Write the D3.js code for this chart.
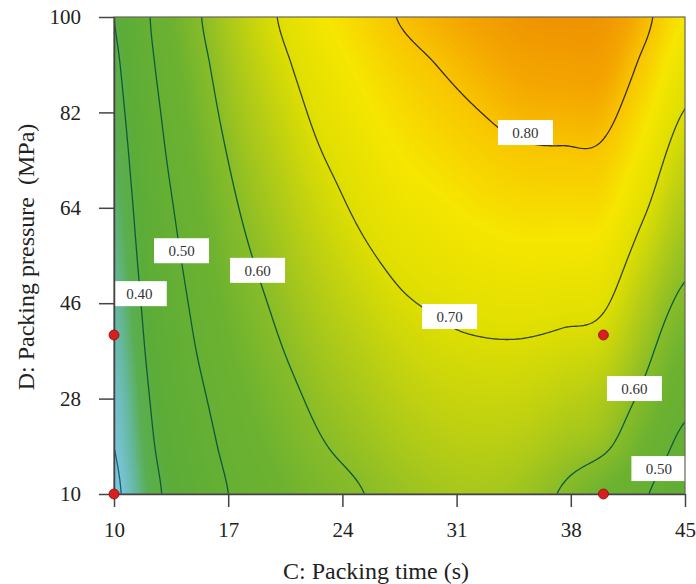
<!doctype html>
<html>
<head>
<script src="https://d3js.org/d3.v7.min.js"></script>
<style>
  body { margin: 0; background: #fff; }
  text { font-family: "Liberation Serif", "Times New Roman", serif; }
</style>
</head>
<body>
<div id="chart"></div>
<script>
// factor levels of the grid (C: packing time, D: packing pressure)
var packTime = [10, 12.5, 15, 17.5, 20, 22.5, 25, 27.5, 30, 32.5, 35, 37.5, 40, 42.5, 45];
var packPressure = [10, 19, 28, 37, 46, 55, 64, 73, 82, 91, 100];

// response, one row per pressure level
var response = [
  [0.288, 0.387, 0.451, 0.510, 0.545, 0.575, 0.597, 0.618, 0.632, 0.637, 0.625, 0.595, 0.550, 0.506, 0.455],
  [0.300, 0.400, 0.467, 0.525, 0.561, 0.594, 0.616, 0.637, 0.651, 0.656, 0.650, 0.630, 0.610, 0.548, 0.483],
  [0.310, 0.412, 0.483, 0.539, 0.577, 0.611, 0.634, 0.656, 0.670, 0.675, 0.673, 0.660, 0.642, 0.586, 0.517],
  [0.322, 0.425, 0.499, 0.554, 0.594, 0.628, 0.652, 0.675, 0.689, 0.694, 0.694, 0.687, 0.675, 0.617, 0.551],
  [0.333, 0.437, 0.512, 0.568, 0.609, 0.644, 0.671, 0.694, 0.706, 0.715, 0.718, 0.714, 0.706, 0.646, 0.586],
  [0.344, 0.450, 0.525, 0.583, 0.624, 0.661, 0.690, 0.712, 0.725, 0.736, 0.742, 0.740, 0.733, 0.676, 0.616],
  [0.355, 0.462, 0.538, 0.597, 0.639, 0.677, 0.707, 0.730, 0.744, 0.758, 0.766, 0.766, 0.762, 0.706, 0.643],
  [0.366, 0.475, 0.551, 0.611, 0.654, 0.694, 0.722, 0.748, 0.764, 0.779, 0.790, 0.792, 0.788, 0.734, 0.670],
  [0.378, 0.487, 0.564, 0.625, 0.669, 0.710, 0.739, 0.764, 0.783, 0.800, 0.815, 0.818, 0.815, 0.762, 0.698],
  [0.389, 0.500, 0.577, 0.638, 0.685, 0.725, 0.755, 0.782, 0.802, 0.820, 0.835, 0.840, 0.838, 0.789, 0.724],
  [0.400, 0.512, 0.590, 0.651, 0.700, 0.740, 0.772, 0.802, 0.821, 0.838, 0.855, 0.860, 0.855, 0.813, 0.750]
];

var contourLevels = [0.3, 0.4, 0.5, 0.6, 0.7, 0.8];

// contour labels, placed in data units
var labelText = ["0.80", "0.70", "0.60", "0.50", "0.50", "0.60", "0.40"];
var labelTime = [35.22, 30.57, 41.9, 43.4, 14.14, 18.8, 11.55];
var labelPressure = [78.2, 43.5, 29.9, 14.8, 55.9, 52.2, 47.8];

// design points
var designTime = [10, 10, 40, 40];
var designPressure = [40, 10, 40, 10];

var timeTicks = [10, 17, 24, 31, 38, 45];
var pressureTicks = [10, 28, 46, 64, 82, 100];

var width = 696, height = 584;
var plotLeft = 114, plotRight = 685, plotTop = 17, plotBottom = 494;
var serif = "Liberation Serif";

var x = d3.scaleLinear().domain([10, 45]).range([plotLeft, plotRight]);
var y = d3.scaleLinear().domain([10, 100]).range([plotBottom, plotTop]);

var color = d3.scaleLinear()
  .domain([0.28, 0.30, 0.335, 0.37, 0.42, 0.55, 0.60, 0.65, 0.70, 0.75, 0.80, 0.83, 0.865])
  .range(["#80c8e4", "#78c4dc", "#66b8a2", "#5aae52", "#5cac38", "#6cb230", "#88bc28",
          "#b4cc16", "#dede02", "#f6e600", "#f8c400", "#f4a600", "#ee9000"])
  .clamp(true);

var lineColor = {0.3: "#1c5f66", 0.4: "#0e5a3c", 0.5: "#0e5a3c", 0.6: "#0e5a3c", 0.7: "#39461f", 0.8: "#3b2f1c"};

// smooth surface through the grid (catmull-rom in both directions)
var nC = packTime.length, nD = packPressure.length;
function at(j, i) {
  j = Math.max(0, Math.min(nD - 1, j));
  i = Math.max(0, Math.min(nC - 1, i));
  return response[j][i];
}
function cr(p0, p1, p2, p3, t) {
  return p1 + 0.5 * t * (p2 - p0 + t * (2 * p0 - 5 * p1 + 4 * p2 - p3 + t * (3 * (p1 - p2) + p3 - p0)));
}
function surface(c, d) {
  var fi = (c - packTime[0]) / (packTime[1] - packTime[0]);
  var fj = (d - packPressure[0]) / (packPressure[1] - packPressure[0]);
  var i = Math.max(0, Math.min(nC - 2, Math.floor(fi))), t = fi - i;
  var j = Math.max(0, Math.min(nD - 2, Math.floor(fj))), u = fj - j;
  var col = [];
  for (var k = -1; k <= 2; k++) {
    col.push(cr(at(j + k, i - 1), at(j + k, i), at(j + k, i + 1), at(j + k, i + 2), t));
  }
  return cr(col[0], col[1], col[2], col[3], u);
}

var svg = d3.select("#chart").append("svg")
  .attr("width", width)
  .attr("height", height);

var pw = plotRight - plotLeft, ph = plotBottom - plotTop;

svg.append("defs").append("clipPath").attr("id", "plotclip")
  .append("rect")
  .attr("x", plotLeft).attr("y", plotTop)
  .attr("width", pw).attr("height", ph);

// colour field
var canvas = document.createElement("canvas");
canvas.width = pw; canvas.height = ph;
var ctx = canvas.getContext("2d");
var img = ctx.createImageData(pw, ph);
for (var py = 0; py < ph; py++) {
  var dv = y.invert(plotTop + py + 0.5);
  for (var px = 0; px < pw; px++) {
    var cv = x.invert(plotLeft + px + 0.5);
    var rgb = d3.rgb(color(surface(cv, dv)));
    var o = (py * pw + px) * 4;
    img.data[o] = rgb.r; img.data[o + 1] = rgb.g; img.data[o + 2] = rgb.b; img.data[o + 3] = 255;
  }
}
ctx.putImageData(img, 0, 0);

svg.append("image")
  .attr("x", plotLeft).attr("y", plotTop)
  .attr("width", pw).attr("height", ph)
  .attr("preserveAspectRatio", "none")
  .attr("href", canvas.toDataURL());

// contour lines
var step = 2, x0 = plotLeft - 6, y0 = plotTop - 6;
var nx = Math.ceil((pw + 12) / step) + 1, ny = Math.ceil((ph + 12) / step) + 1;
var grid = new Array(nx * ny);
for (var gj = 0; gj < ny; gj++) {
  for (var gi = 0; gi < nx; gi++) {
    grid[gj * nx + gi] = surface(x.invert(x0 + gi * step), y.invert(y0 + gj * step));
  }
}
var contours = d3.contours().size([nx, ny]).thresholds(contourLevels)(grid);
var path = d3.geoPath(d3.geoIdentity().scale(step).translate([x0 - 0.5 * step, y0 - 0.5 * step]));

var plot = svg.append("g").attr("clip-path", "url(#plotclip)");

plot.selectAll("path.contour")
  .data(contours)
  .enter()
  .append("path")
  .attr("class", "contour")
  .attr("d", path)
  .attr("fill", "none")
  .attr("stroke", function(d) { return lineColor[d.value]; })
  .attr("stroke-width", 1.3);

// contour labels
var labels = plot.selectAll("g.lab")
  .data(labelText)
  .enter()
  .append("g")
  .attr("class", "lab")
  .attr("transform", function(d, i) { return "translate(" + x(labelTime[i]) + "," + y(labelPressure[i]) + ")"; });

labels.append("rect")
  .attr("x", -27.5).attr("y", -12.5)
  .attr("width", 55).attr("height", 25)
  .attr("fill", "#fff");

labels.append("text")
  .attr("text-anchor", "middle")
  .attr("dy", "0.35em")
  .attr("font-family", serif)
  .attr("font-size", 15)
  .attr("fill", "#333")
  .text(function(d) { return d; });

// frame
svg.append("rect")
  .attr("x", plotLeft).attr("y", plotTop)
  .attr("width", pw).attr("height", ph)
  .attr("fill", "none")
  .attr("stroke", "#6a6458")
  .attr("stroke-width", 1.2);

// axes
var xAxis = d3.axisBottom(x).tickValues(timeTicks).tickSize(13).tickSizeOuter(0).tickPadding(15);
var yAxis = d3.axisLeft(y).tickValues(pressureTicks).tickSize(15).tickSizeOuter(0).tickPadding(18);

var gx = svg.append("g").attr("transform", "translate(0," + plotBottom + ")").call(xAxis)
  .attr("font-family", serif).attr("font-size", 21);
var gy = svg.append("g").attr("transform", "translate(" + plotLeft + ",0)").call(yAxis)
  .attr("font-family", serif).attr("font-size", 21);

[gx, gy].forEach(function(g) {
  g.selectAll("path.domain").attr("stroke", "#444").attr("stroke-width", 1.5);
  g.selectAll(".tick line").attr("stroke", "#444").attr("stroke-width", 1.5);
  g.selectAll(".tick text").attr("fill", "#222");
});

// design points
svg.selectAll("circle.design")
  .data(designTime)
  .enter()
  .append("circle")
  .attr("class", "design")
  .attr("cx", function(d) { return x(d); })
  .attr("cy", function(d, i) { return y(designPressure[i]); })
  .attr("r", 5)
  .attr("fill", "#d81e1e")
  .attr("stroke", "#8a1010")
  .attr("stroke-width", 0.8);

// axis titles
svg.append("text")
  .attr("x", 376).attr("y", 579)
  .attr("text-anchor", "middle")
  .attr("font-family", serif)
  .attr("font-size", 24)
  .attr("fill", "#222")
  .text("C: Packing time (s)");

svg.append("text")
  .attr("transform", "translate(34,257) rotate(-90)")
  .attr("text-anchor", "middle")
  .attr("font-family", serif)
  .attr("font-size", 24)
  .attr("fill", "#222")
  .style("white-space", "pre")
  .text("D: Packing pressure  (MPa)");
</script>
</body>
</html>
